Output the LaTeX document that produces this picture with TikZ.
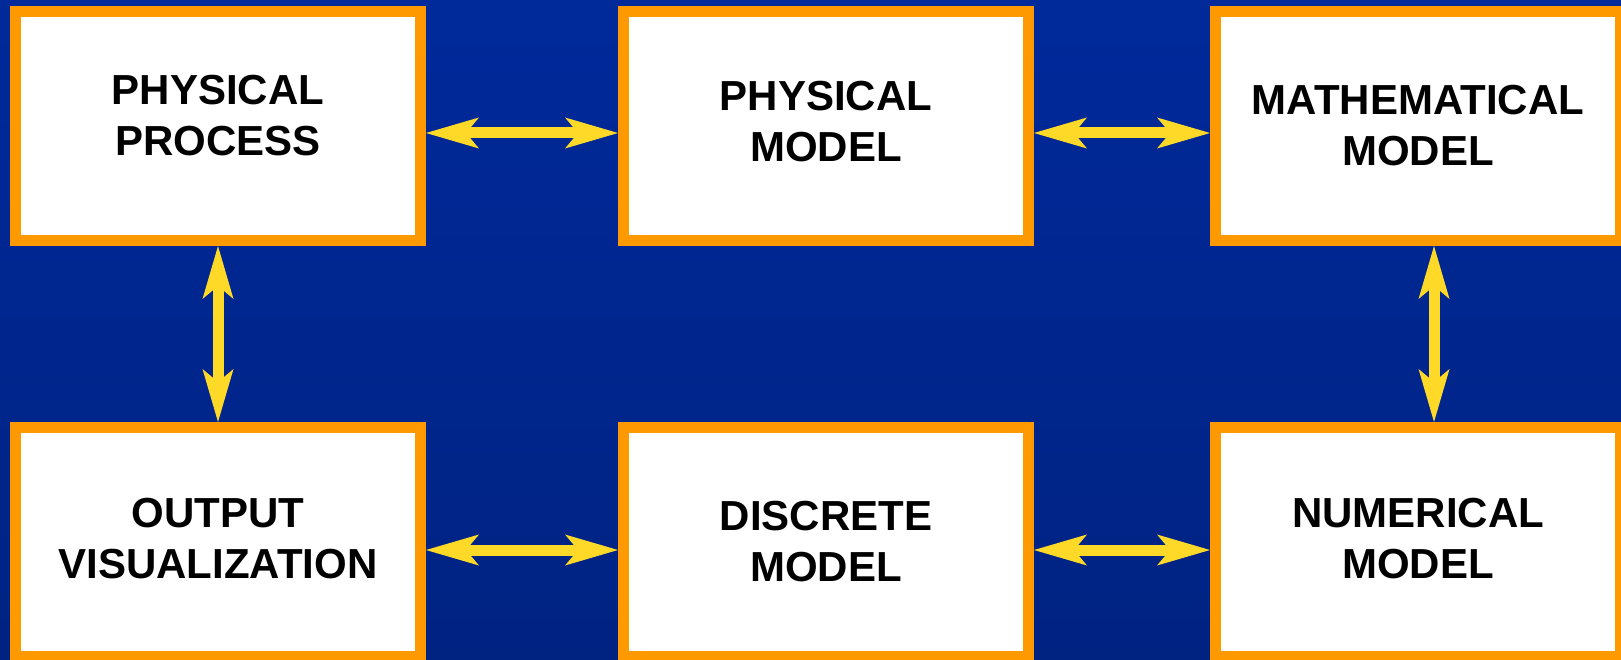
\documentclass[tikz,border=0pt]{standalone}
\usepackage{fontspec}
\setmainfont{Liberation Sans}
\usetikzlibrary{arrows.meta}
\definecolor{bgtop}{RGB}{0,41,154}
\definecolor{bgbot}{RGB}{0,35,130}
\definecolor{boxorange}{RGB}{255,153,0}
\definecolor{arrowyellow}{RGB}{255,217,40}
\tikzset{
  box/.style={rectangle, draw=boxorange, fill=white, line width=10.7pt,
    minimum width=405.3pt, minimum height=229.3pt, inner sep=0pt},
  txt/.style={align=center, inner sep=0pt, text=black,
    font=\fontsize{42}{51}\selectfont\bfseries},
  biarrow/.style={draw=arrowyellow, line width=11pt,
    {Stealth[length=53pt, width=31pt, inset=13pt, line width=0pt]}-{Stealth[length=53pt, width=31pt, inset=13pt, line width=0pt]}}
}
\begin{document}
\begin{tikzpicture}[x=1pt, y=-1pt]
\useasboundingbox (0,0) rectangle (1621,660);
\clip (0,0) rectangle (1621,660);
\shade[top color=bgtop, bottom color=bgbot] (0,0) rectangle (1621,660);
% boxes
\node[box] (b1) at (218,126) {};
\node[box] (b2) at (826,126) {};
\node[box] (b3) at (1418,126) {};
\node[box] (b4) at (218,542) {};
\node[box] (b5) at (826,542) {};
\node[box] (b6) at (1418,542) {};
% texts
\node[txt] (t1) at ([yshift=10.7pt]b1.center) {PHYSICAL\\PROCESS};
\node[txt] (t2) at ([yshift=4pt]b2.center) {PHYSICAL\\MODEL};
\node[txt] (t3) at ([yshift=0pt]b3.center) {MATHEMATICAL\\MODEL};
\node[txt] (t4) at ([yshift=3.5pt]b4.center) {OUTPUT\\VISUALIZATION};
\node[txt] (t5) at ([yshift=0.5pt]b5.center) {DISCRETE\\MODEL};
\node[txt] (t6) at ([yshift=3.5pt]b6.center) {NUMERICAL\\MODEL};
% connectors
\draw[biarrow] ([yshift=-7pt]b1.east) -- ([yshift=-7pt]b2.west);
\draw[biarrow] ([yshift=-7pt]b2.east) -- ([yshift=-7pt]b3.west);
\draw[biarrow] ([yshift=-8pt]b4.east) -- ([yshift=-8pt]b5.west);
\draw[biarrow] ([yshift=-8pt]b5.east) -- ([yshift=-8pt]b6.west);
\draw[biarrow] (b1.south) -- (b4.north);
\draw[biarrow] ([xshift=16pt]b3.south) -- ([xshift=16pt]b6.north);
\end{tikzpicture}
\end{document}
